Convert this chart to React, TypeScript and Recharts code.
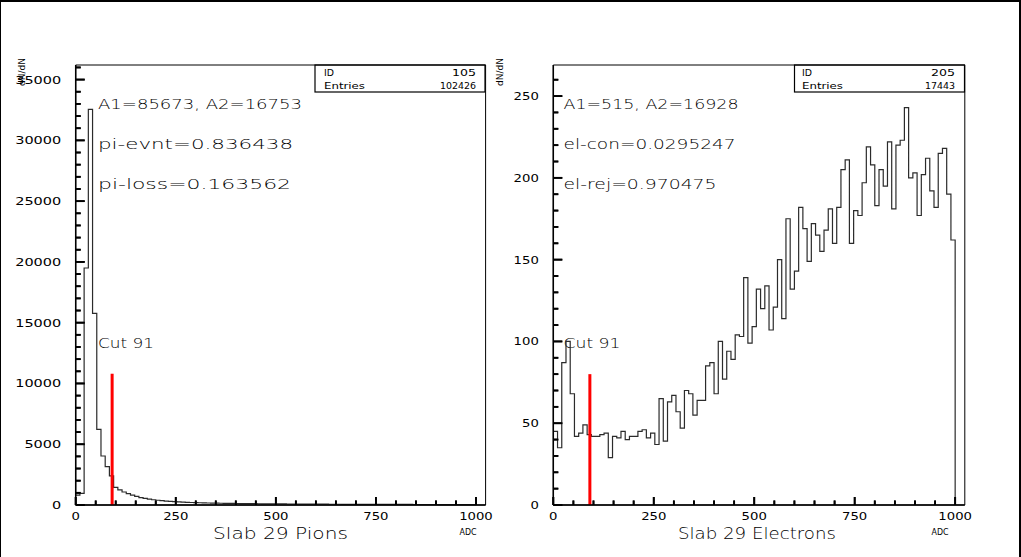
import React from 'react';
import { LineChart, Line, XAxis, YAxis, ReferenceLine, ReferenceArea } from 'recharts';

// ---------- data ----------
const BIN_WIDTH = 1000 / 95; // ADC units per bin
const CUT = 91;
const X_MAX = 1024;

const pionCounts = [
  820, 960, 19500, 32550, 15760, 6220, 4030, 3150, 2390,
  1450, 1240, 1070, 930, 810, 705, 615, 545, 480, 430,
  390, 355, 320, 298, 272, 250, 236, 219, 206, 196,
  184, 176, 166, 159, 151, 146, 139, 133, 129, 123,
  119, 114, 110, 107, 103, 99, 97, 93, 90, 87,
  85, 82, 79, 77, 75, 73, 71, 69, 68, 66,
  64, 63, 61, 60, 59, 57, 56, 55, 54, 53,
  52, 51, 50, 49, 48, 47, 47, 46, 45, 44,
  44, 43, 42, 42, 41, 40, 40, 39, 39, 38,
  38, 37, 37, 36, 36, 35,
];

const electronCounts = [
  45, 35, 87, 100, 68, 42, 44, 49, 43,
  42, 42, 43, 44, 29, 42, 41, 45, 40, 42, 42, 45, 46, 41, 44, 37,
  65, 39, 63, 67, 57, 47, 70, 68, 55, 64, 64, 85, 87, 68, 100, 77, 94, 89, 104, 103, 139, 99, 109, 132,
  120, 134, 107, 121, 150, 114, 175, 132, 143, 182, 169, 149, 172, 165, 155, 168, 181, 160, 182, 205, 211, 160, 180, 177,
  197, 219, 208, 183, 205, 195, 222, 181, 220, 223, 243, 200, 203, 177, 202, 212, 192, 182, 215, 218, 190, 162,
];

const xMajorTicks = [0, 250, 500, 750, 1000];
const pionYMajorTicks = [0, 5000, 10000, 15000, 20000, 25000, 30000, 35000];
const electronYMajorTicks = [0, 50, 100, 150, 200, 250];

const pionStats = { id: '105', entries: '102426' };
const electronStats = { id: '205', entries: '17443' };
const pionNotes = ['A1=85673, A2=16753', 'pi-evnt=0.836438', 'pi-loss=0.163562'];
const electronNotes = ['A1=515, A2=16928', 'el-con=0.0295247', 'el-rej=0.970475'];
const pionTitle = 'Slab 29 Pions';
const electronTitle = 'Slab 29 Electrons';

// ---------- layout ----------
const W = 1021;
const H = 557;
const PLOT_TOP = 65;
const PLOT_BOTTOM = 505;
const FONT = '"DejaVu Sans", "Liberation Sans", sans-serif';
const TICK_W = 1.8;

function toHist(counts: number[]) {
  const pts = counts.map((n, i) => ({ adc: i * BIN_WIDTH, n }));
  pts.push({ adc: counts.length * BIN_WIDTH, n: 0 });
  return pts;
}

function stepTicks(step: number, max: number) {
  const out: number[] = [];
  for (let v = 0; v <= max + 1e-9; v += step) out.push(Math.round(v * 1000) / 1000);
  return out;
}

function XTick(props: any) {
  const { x, payload } = props;
  const v = payload.value;
  const major = xMajorTicks.includes(v);
  const label = String(v);
  const len = major ? 8 : 4.5;
  return (
    <g>
      <rect x={x - TICK_W / 2} y={PLOT_BOTTOM - len} width={TICK_W} height={len} fill="#000" />
      {major ? (
        <text x={x} y={PLOT_BOTTOM + 14.5} fontSize={10.5} fontFamily={FONT} textAnchor="middle"
          textLength={label.length * 8.4} lengthAdjust="spacingAndGlyphs" fill="#000" stroke="none">{label}</text>
      ) : null}
    </g>
  );
}

function YTick(props: any) {
  const { y, payload, axisX, majors, charW } = props;
  const v = payload.value;
  const major = majors.includes(v);
  const label = String(v);
  const len = major ? 9 : 5;
  return (
    <g>
      <rect x={axisX} y={y - TICK_W / 2} width={len} height={TICK_W} fill="#000" />
      {major ? (
        <text x={axisX - 14.5} y={y + 4} fontSize={10.5} fontFamily={FONT} textAnchor="end"
          textLength={label.length * charW} lengthAdjust="spacingAndGlyphs" fill="#000" stroke="none">{label}</text>
      ) : null}
    </g>
  );
}

type PanelProps = {
  counts: number[];
  left: number;
  width: number;
  plotLeft: number;
  plotRight: number;
  yMax: number;
  yMajors: number[];
  yMinorStep: number;
  yCharW: number;
  cutTop: number;
};

function HistPanel(p: PanelProps) {
  const data = toHist(p.counts);
  const localLeft = p.plotLeft - p.left;
  const xTicks = stepTicks(50, 1000);
  const yTicks = stepTicks(p.yMinorStep, p.yMax);
  const yPerPx = p.yMax / (PLOT_BOTTOM - PLOT_TOP);
  const xPerPx = X_MAX / (p.plotRight - p.plotLeft);

  return (
    <div style={{ position: 'absolute', left: p.left, top: 0 }}>
      <LineChart
        width={p.width}
        height={H}
        data={data}
        margin={{ top: PLOT_TOP, right: p.width - (p.plotRight - p.left), left: 0, bottom: 0 }}
      >
        <XAxis dataKey="adc" type="number" domain={[0, X_MAX]} ticks={xTicks} interval={0}
          height={H - PLOT_BOTTOM} tickLine={false}
          axisLine={{ stroke: '#000', strokeWidth: 1.5 }} tick={<XTick />} />
        <YAxis type="number" domain={[0, p.yMax]} ticks={yTicks} interval={0}
          width={localLeft} tickLine={false}
          axisLine={{ stroke: '#000', strokeWidth: 1.5 }}
          tick={<YTick axisX={localLeft} majors={p.yMajors} charW={p.yCharW} />} />
        {xTicks.map((v) => (
          <ReferenceLine key={'xt' + v} ifOverflow="visible"
            segment={[{ x: v, y: 0 }, { x: v, y: (xMajorTicks.includes(v) ? 8 : 4.5) * yPerPx }]}
            stroke="#000" strokeWidth={TICK_W} />
        ))}
        {yTicks.map((v) => (
          <ReferenceLine key={'yt' + v} ifOverflow="visible"
            segment={[{ x: 0, y: v }, { x: (p.yMajors.includes(v) ? 9 : 5) * xPerPx, y: v }]}
            stroke="#000" strokeWidth={TICK_W} />
        ))}
        <Line type="stepAfter" dataKey="n" stroke="#2b2b2b" strokeWidth={1.2} dot={false} activeDot={false}
          isAnimationActive={false} />
        <ReferenceLine segment={[{ x: CUT, y: 0 }, { x: CUT, y: p.cutTop }]} stroke="#ff0000" strokeWidth={3} />
        <ReferenceArea x1={0} x2={X_MAX} y1={0} y2={p.yMax} fill="none" stroke="#000" strokeWidth={1} />
      </LineChart>
    </div>
  );
}

function Txt(props: { x: number; y: number; w?: number; size: number; anchor?: string; children: string; rotate?: number; weight?: number }) {
  const { x, y, w, size, anchor = 'start', children, rotate, weight = 300 } = props;
  return (
    <text x={x} y={y} fontSize={size} fontFamily={FONT} fontWeight={weight} textAnchor={anchor as any} fill="#000"
      textLength={w} lengthAdjust={w ? 'spacingAndGlyphs' : undefined}
      transform={rotate ? `rotate(${rotate} ${x} ${y})` : undefined}>{children}</text>
  );
}

function Overlay() {
  return (
    <svg width={W} height={H} style={{ position: 'absolute', left: 0, top: 0, pointerEvents: 'none' }}>
      {/* y titles */}
      <Txt x={25} y={72} size={9} anchor="middle" rotate={-90} weight={400}>dN/dN</Txt>
      <Txt x={503} y={72} size={9} anchor="middle" rotate={-90} weight={400}>dN/dN</Txt>

      {/* stats boxes */}
      <rect x={315} y={65} width={170} height={27} fill="#fff" stroke="#000" strokeWidth={1.2} />
      <Txt x={324} y={75.5} size={9.5} w={10} weight={400}>ID</Txt>
      <Txt x={476} y={75.5} size={9.5} w={24} anchor="end" weight={400}>{pionStats.id}</Txt>
      <Txt x={324} y={89} size={9.5} w={41} weight={400}>Entries</Txt>
      <Txt x={476} y={89} size={9.5} w={36} anchor="end" weight={400}>{pionStats.entries}</Txt>

      <rect x={794.5} y={65} width={170} height={27} fill="#fff" stroke="#000" strokeWidth={1.2} />
      <Txt x={802} y={75.5} size={9.5} w={10} weight={400}>ID</Txt>
      <Txt x={955} y={75.5} size={9.5} w={24} anchor="end" weight={400}>{electronStats.id}</Txt>
      <Txt x={802} y={89} size={9.5} w={41} weight={400}>Entries</Txt>
      <Txt x={955} y={89} size={9.5} w={30} anchor="end" weight={400}>{electronStats.entries}</Txt>

      {/* annotations left */}
      <Txt x={98} y={109} size={14} w={204}>{pionNotes[0]}</Txt>
      <Txt x={98} y={149} size={14} w={195}>{pionNotes[1]}</Txt>
      <Txt x={98} y={189} size={14} w={193}>{pionNotes[2]}</Txt>
      <Txt x={98} y={348} size={14} w={56}>{'Cut ' + CUT}</Txt>

      {/* annotations right */}
      <Txt x={563.5} y={109} size={14} w={175}>{electronNotes[0]}</Txt>
      <Txt x={563.5} y={149} size={14} w={172}>{electronNotes[1]}</Txt>
      <Txt x={563.5} y={189} size={14} w={153}>{electronNotes[2]}</Txt>
      <Txt x={563.5} y={348} size={14} w={57}>{'Cut ' + CUT}</Txt>

      {/* titles */}
      <Txt x={213} y={539} size={15} w={135}>{pionTitle}</Txt>
      <Txt x={678} y={539} size={15} w={158}>{electronTitle}</Txt>
      <Txt x={468} y={535} size={9.5} w={17} anchor="middle" weight={400}>ADC</Txt>
      <Txt x={940} y={535} size={9.5} w={17} anchor="middle" weight={400}>ADC</Txt>
    </svg>
  );
}

export default function App() {
  return (
    <div style={{ position: 'absolute', left: 0, top: 0, width: W, height: H, background: '#fff', overflow: 'hidden' }}>
      <div style={{ position: 'absolute', left: 0, top: 0, width: W, height: H, boxSizing: 'border-box',
        borderTop: '2px solid #000', borderLeft: '1px solid #000', borderRight: '2px solid #000' }} />
      <Overlay />
      <HistPanel counts={pionCounts} left={0} width={510} plotLeft={75.7} plotRight={485.6}
        yMax={36200} yMajors={pionYMajorTicks} yMinorStep={1000} yCharW={9.2} cutTop={10800} />
      <HistPanel counts={electronCounts} left={510} width={511} plotLeft={553.3} plotRight={964.8}
        yMax={269} yMajors={electronYMajorTicks} yMinorStep={10} yCharW={8.4} cutTop={80} />
    </div>
  );
}
